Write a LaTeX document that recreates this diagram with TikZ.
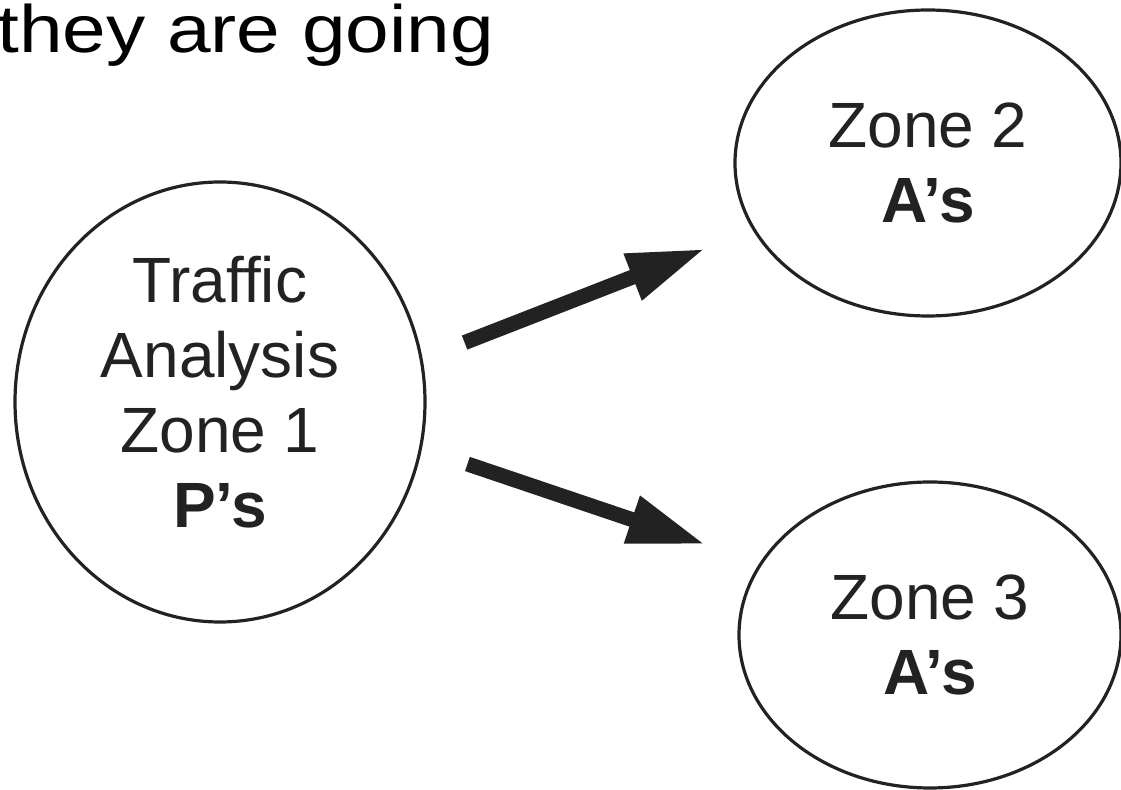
\documentclass[tikz,border=0pt]{standalone}
\usepackage{fontspec}
\setmainfont{Liberation Sans}
\newfontfamily\headfont[FakeStretch=1.17]{Liberation Sans}
\usetikzlibrary{arrows.meta,shapes.geometric}
\definecolor{ink}{HTML}{222222}
\begin{document}
\begin{tikzpicture}[x=0.5pt,y=-0.5pt,
    zone/.style={ellipse,draw=ink,line width=1.6pt,inner sep=0pt,align=center,
      text=ink,font=\fontsize{32}{37.5}\selectfont},
    flow/.style={draw=ink,line width=7.5pt,-{Triangle[length=39pt,width=23pt]}}]
    \useasboundingbox (0,0) rectangle (1121,790);
    \node[anchor=base west,inner sep=0pt,text=black,font=\fontsize{33.5}{40}\headfont] (head) at (-3,53) {they are going};
    \node[zone,minimum width=205pt,minimum height=220pt] (z1) at (220,402)
        {Traffic\\Analysis\\Zone 1\\\textbf{P’s}\rule[-10pt]{0pt}{0pt}};
    \node[zone,minimum width=193pt,minimum height=153pt] (z2) at (928,163)
        {Zone 2\\\textbf{A’s}};
    \node[zone,minimum width=191pt,minimum height=153pt] (z3) at (930,635)
        {Zone 3\\\textbf{A’s}};
    \draw[flow,shorten <=22.5pt,shorten >=25.5pt] (z1.12.6) -- (z2.201.5);
    \draw[flow,shorten <=24pt,shorten >=28.5pt] (z1.347.2) -- (z3.157.3);
\end{tikzpicture}
\end{document}
